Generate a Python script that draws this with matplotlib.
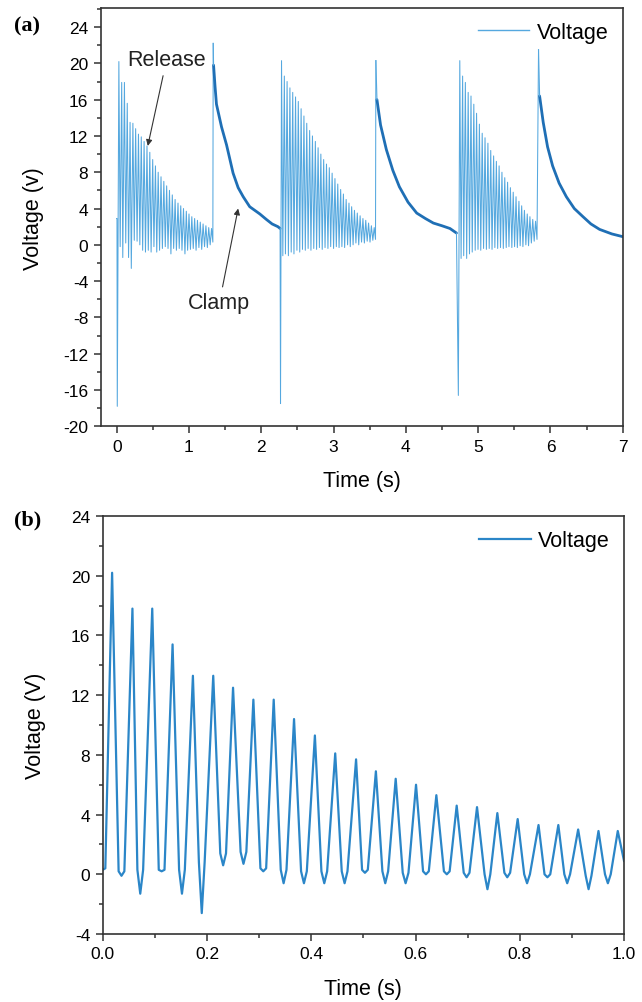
import numpy as np
import matplotlib
matplotlib.use("Agg")
import matplotlib.pyplot as plt
from matplotlib.ticker import MultipleLocator

plt.rcParams["font.family"] = ["Liberation Sans", "DejaVu Sans"]
plt.rcParams["axes.unicode_minus"] = False

# ---- panel (b): one release, 0-1 s (peaks / troughs) ----
b_peak_t = [0.018, 0.057, 0.095, 0.134, 0.173, 0.212, 0.250, 0.289, 0.328,
            0.367, 0.407, 0.446, 0.486, 0.524, 0.562, 0.601, 0.640, 0.679,
            0.718, 0.757, 0.796, 0.836, 0.874, 0.912, 0.951, 0.988]
b_peak_v = [20.2, 17.8, 17.8, 15.4, 13.3, 13.3, 12.5, 11.7, 11.7, 10.4, 9.3,
            8.1, 7.7, 6.9, 6.4, 6.0, 5.3, 4.6, 4.5, 4.1, 3.7, 3.3, 3.3, 3.0,
            2.9, 2.9]
b_trough_t = [0.036, 0.072, 0.113, 0.152, 0.190, 0.231, 0.270, 0.308, 0.347,
              0.386, 0.425, 0.464, 0.503, 0.542, 0.581, 0.620, 0.660, 0.698,
              0.738, 0.776, 0.814, 0.853, 0.891, 0.932, 0.969]
# lowest dip of each trough and the flat floor around it
b_trough_v = [-0.1, -1.3, 0.2, -1.3, -2.6, 0.6, 0.7, 0.2, -0.6, -0.6, -0.6,
              -0.6, 0.1, -0.6, -0.6, 0.0, 0.0, -0.2, -1.0, -0.2, -0.6, -0.2,
              -0.6, -1.0, -0.6]
b_floor_v = [0.2, 0.3, 0.3, 0.3, 0.8, 1.4, 1.5, 0.4, 0.3, 0.2, 0.2, 0.2, 0.3,
             0.2, 0.1, 0.2, 0.2, 0.1, 0.0, 0.1, 0.0, 0.0, 0.0, -0.1, 0.0]
b_start_t = [0.0, 0.005]
b_start_v = [0.3, 0.4]
b_end_t = [1.0]
b_end_v = [0.9]
TROUGH_HALF = 0.0055  # half width of the flat bottom of each cycle (s)

# ---- panel (a): three release bursts and three clamp decays ----
# cycle timing inside a burst (same ringing as panel b, continued to ~1.3 s)
cycle_peak_t = b_peak_t + [1.027, 1.066, 1.105, 1.144, 1.183, 1.222, 1.261, 1.300]
cycle_trough_t = b_trough_t + [1.008, 1.047, 1.086, 1.125, 1.164, 1.203,
                               1.242, 1.281, 1.318]

rel1_offset = 0.012
rel1_lead_t = [0.0, 0.004, 0.008]
rel1_lead_v = [2.9, 2.9, -17.8]
rel1_peak_v = [20.2, 17.9, 17.9, 15.6, 13.5, 13.4, 12.8, 12.2, 11.9, 11.4, 10.9,
               10.2, 9.4, 8.7, 8.0, 7.5, 7.0, 6.5, 6.0, 5.5, 5.0, 4.6, 4.3, 4.0,
               3.7, 3.4, 3.1, 2.9, 2.7, 2.5, 2.3, 2.1, 1.9, 1.8]
rel1_trough_v = [-0.2, -1.4, 0.2, -1.4, -2.6, 0.5, 0.4, 0.0, -0.6, -0.8, -0.6,
                 -0.8, -0.2, -0.8, -0.6, -0.4, -0.2, -0.4, -1.0, -0.4, -0.6,
                 -0.4, -0.6, -1.0, -0.6, -0.5, -0.4, -0.6, -0.3, -0.5, -0.2,
                 -0.3, 0.0, 0.3]

rel2_offset = 2.262
rel2_lead_t = [2.266]
rel2_lead_v = [-17.5]
rel2_peak_v = [20.3, 18.6, 18.0, 17.3, 16.8, 16.3, 15.8, 15.0, 14.2, 13.4, 12.6,
               12.0, 11.4, 10.7, 10.0, 9.4, 8.9, 8.5, 7.9, 7.3, 6.7, 6.1, 5.6,
               5.0, 4.6, 4.2, 3.8, 3.5, 3.2, 2.9, 2.7, 2.4, 2.1, 1.9]
rel2_trough_v = [-1.2, -1.0, -1.2, -0.8, -1.0, -0.6, -0.8, -0.5, -0.6, -0.4,
                 -0.6, -0.4, -0.5, -0.3, -0.5, -0.3, -0.4, -0.2, -0.4, -0.2,
                 -0.3, -0.2, -0.3, 0.0, -0.2, 0.0, 0.2, 0.0, 0.3, 0.2, 0.4,
                 0.3, 0.5, 0.6]

rel3_offset = 4.728
rel3_lead_t = [4.726]
rel3_lead_v = [-16.6]
rel3_peak_v = [20.3, 18.6, 17.9, 16.8, 16.4, 15.5, 14.5, 13.3, 12.3, 11.8, 11.2,
               10.4, 9.8, 9.2, 8.7, 8.0, 7.4, 6.9, 6.3, 5.8, 5.3, 4.8, 4.3, 3.8,
               3.4, 3.1, 2.8, 2.6]
rel3_trough_v = [-1.5, -1.2, -1.5, -1.0, -0.8, -0.6, -0.5, -0.6, -0.4, -0.5,
                 -0.4, -0.5, -0.3, -0.4, -0.3, -0.4, -0.3, -0.2, -0.3, -0.2,
                 -0.3, -0.1, -0.2, 0.0, -0.1, 0.2, 0.4, 0.6]

clamp1_t = [1.335, 1.34, 1.36, 1.38, 1.45, 1.52, 1.61, 1.68, 1.75, 1.84, 1.98,
            2.07, 2.15, 2.23, 2.26]
clamp1_v = [22.2, 19.8, 17.5, 15.5, 13.0, 11.0, 7.9, 6.3, 5.3, 4.2, 3.4, 2.8,
            2.3, 2.0, 1.8]
clamp2_t = [3.585, 3.60, 3.65, 3.73, 3.82, 3.91, 4.03, 4.15, 4.27, 4.38, 4.50,
            4.61, 4.70]
clamp2_v = [20.3, 16.0, 13.2, 10.5, 8.2, 6.4, 4.7, 3.5, 2.9, 2.4, 2.1, 1.8, 1.3]
clamp3_t = [5.835, 5.85, 5.90, 5.96, 6.03, 6.12, 6.22, 6.33, 6.45, 6.56, 6.68,
            6.85, 7.0]
clamp3_v = [21.5, 16.4, 13.5, 10.8, 8.7, 6.8, 5.3, 4.0, 3.1, 2.3, 1.7, 1.2, 0.9]

LIGHT = "#55a8df"
DARK = "#1f6fb5"
LINE_B = "#2b86c8"
INK = "#222222"
TXT = 15.5


def ringing(offset, peak_v, trough_v):
    n = len(peak_v)
    t = np.empty(2 * n)
    v = np.empty(2 * n)
    t[0::2] = offset + np.asarray(cycle_peak_t[:n])
    t[1::2] = offset + np.asarray(cycle_trough_t[:n])
    v[0::2] = peak_v
    v[1::2] = trough_v
    return t, v


def style_axes(ax):
    for sp in ax.spines.values():
        sp.set_linewidth(1.2)
        sp.set_color("#333333")
    ax.tick_params(which="both", direction="out", top=False, right=False,
                   width=1.1, color="#333333", labelsize=12.5, pad=4)
    ax.tick_params(which="major", length=5)
    ax.tick_params(which="minor", length=3)


fig = plt.figure(figsize=(6.42, 10.03), dpi=100)
ax1 = fig.add_axes([0.157, 0.574, 0.813, 0.417])
ax2 = fig.add_axes([0.160, 0.0678, 0.812, 0.4167])

# panel (a)
bursts = [
    (rel1_lead_t, rel1_lead_v, rel1_offset, rel1_peak_v, rel1_trough_v, clamp1_t, clamp1_v),
    (clamp1_t[-1:] + rel2_lead_t, clamp1_v[-1:] + rel2_lead_v, rel2_offset,
     rel2_peak_v, rel2_trough_v, clamp2_t, clamp2_v),
    (clamp2_t[-1:] + rel3_lead_t, clamp2_v[-1:] + rel3_lead_v, rel3_offset,
     rel3_peak_v, rel3_trough_v, clamp3_t, clamp3_v),
]
for lead_t, lead_v, off, pv, tv, ct, cv in bursts:
    rt, rv = ringing(off, pv, tv)
    t = np.concatenate([lead_t, rt, ct[:1]])
    v = np.concatenate([lead_v, rv, cv[:1]])
    ax1.plot(t, v, color=LIGHT, lw=0.75)
    ax1.plot(ct[1:], cv[1:], color=DARK, lw=2.0, solid_capstyle="round")
    ax1.plot(ct[:2], cv[:2], color=LIGHT, lw=0.8)

ax1.plot([], [], color=LIGHT, lw=1.0, label="Voltage")
ax1.set_xlim(-0.22, 7)
ax1.set_ylim(-20, 26.1)
ax1.xaxis.set_major_locator(MultipleLocator(1))
ax1.xaxis.set_minor_locator(MultipleLocator(0.5))
ax1.yaxis.set_major_locator(MultipleLocator(4))
ax1.yaxis.set_minor_locator(MultipleLocator(2))
ax1.set_xlabel("Time (s)", fontsize=TXT, labelpad=12)
ax1.set_ylabel("Voltage (v)", fontsize=TXT, labelpad=14)
style_axes(ax1)
ax1.legend(loc="upper right", frameon=False, fontsize=TXT, handlelength=2.4,
           borderaxespad=0.25, handletextpad=0.35)

arrow = dict(arrowstyle="-|>", color="#333333", lw=0.8, mutation_scale=9,
             shrinkA=2, shrinkB=0)
ax1.annotate("Release", xy=(0.43, 10.9), xytext=(0.69, 20.4), fontsize=TXT,
             color=INK, ha="center", va="center", arrowprops=arrow)
ax1.annotate("Clamp", xy=(1.68, 4.0), xytext=(1.42, -6.4), fontsize=TXT,
             color=INK, ha="center", va="center", arrowprops=arrow)

# panel (b): peak, then a flat floor with its dip, cycle by cycle
tb, vb = list(b_start_t), list(b_start_v)
for pt, pv, tt, dv, fv in zip(b_peak_t, b_peak_v, b_trough_t, b_trough_v, b_floor_v):
    tb += [pt, tt - TROUGH_HALF, tt, tt + TROUGH_HALF]
    vb += [pv, fv, dv, fv]
tb += [b_peak_t[-1]] + b_end_t
vb += [b_peak_v[-1]] + b_end_v
ax2.plot(tb, vb, color=LINE_B, lw=1.6, label="Voltage")
ax2.set_xlim(0, 1)
ax2.set_ylim(-4, 24)
ax2.xaxis.set_major_locator(MultipleLocator(0.2))
ax2.xaxis.set_minor_locator(MultipleLocator(0.1))
ax2.xaxis.set_major_formatter(plt.FormatStrFormatter("%.1f"))
ax2.yaxis.set_major_locator(MultipleLocator(4))
ax2.yaxis.set_minor_locator(MultipleLocator(2))
ax2.set_xlabel("Time (s)", fontsize=TXT, labelpad=12)
ax2.set_ylabel("Voltage (V)", fontsize=TXT, labelpad=18)
style_axes(ax2)
ax2.legend(loc="upper right", frameon=False, fontsize=TXT, handlelength=2.4,
           borderaxespad=0.25, handletextpad=0.35)

fig.text(0.022, 0.974, "(a)", family=["Liberation Serif", "DejaVu Serif"],
         fontweight="bold", fontsize=16, ha="left", va="center")
fig.text(0.022, 0.481, "(b)", family=["Liberation Serif", "DejaVu Serif"],
         fontweight="bold", fontsize=16, ha="left", va="center")

fig.savefig("out.png", dpi=100)
